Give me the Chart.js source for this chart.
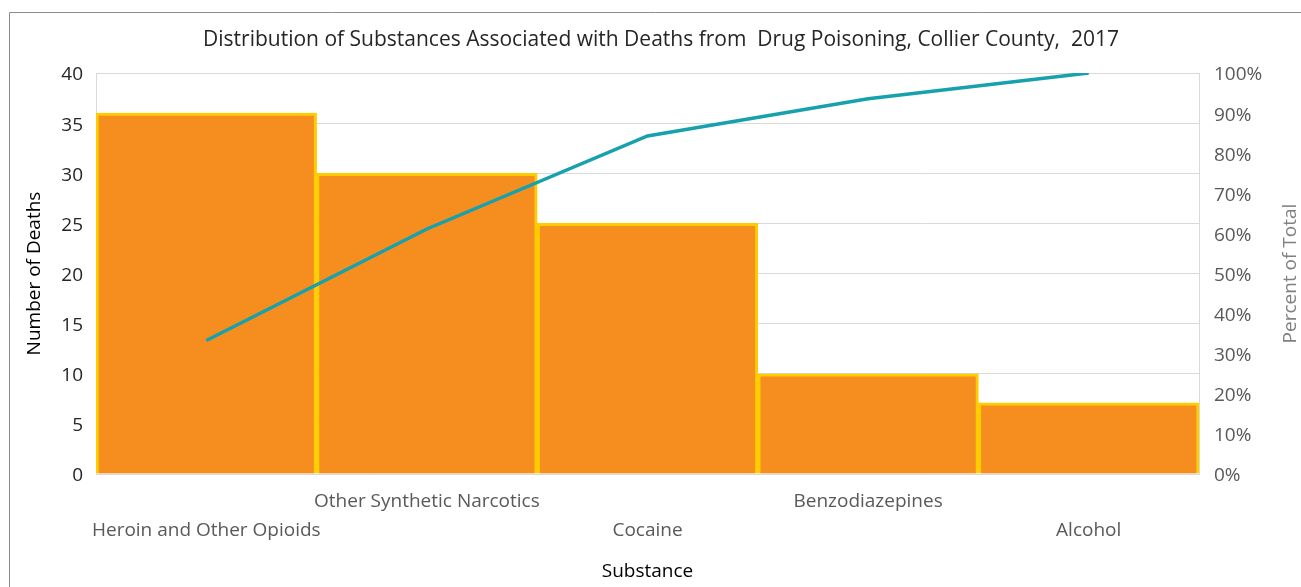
<!DOCTYPE html>
<html><head><meta charset="utf-8">
<script src="https://cdn.jsdelivr.net/npm/chart.js@4/dist/chart.umd.min.js"></script>
<style>html,body{margin:0;padding:0;background:#fff;overflow:hidden}canvas{display:block}</style>
</head><body>
<canvas id="c" width="1301" height="587"></canvas>
<script>
const categories = ['Heroin and Other Opioids', 'Other Synthetic Narcotics', 'Cocaine', 'Benzodiazepines', 'Alcohol'];
const deaths = [36, 30, 25, 10, 7.1];
const cumulativePercent = [33.3, 61.1, 84.3, 93.6, 100];
const chartTitle = 'Distribution of Substances Associated with Deaths from  Drug Poisoning, Collier County,  2017';
const leftAxisTitle = 'Number of Deaths';
const rightAxisTitle = 'Percent of Total';
const xAxisTitle = 'Substance';

const FONT = '"Open Sans", sans-serif';
// stagger category labels over two lines
const labels = categories.map((c, i) => i % 2 === 0 ? ['', c] : [c, '']);

const extras = {
  id: 'extras',
  afterDraw(chart) {
    const ctx = chart.ctx;
    ctx.save();
    ctx.strokeStyle = '#8c8c8c';
    ctx.lineWidth = 1;
    ctx.beginPath();
    ctx.moveTo(9.5, 587); ctx.lineTo(9.5, 12.5); ctx.lineTo(1301, 12.5);
    ctx.stroke();
    const a = chart.chartArea;
    ctx.translate(1291, (a.top + a.bottom) / 2);
    ctx.rotate(-Math.PI / 2);
    ctx.font = '19px ' + FONT;
    ctx.fillStyle = '#808080';
    ctx.textAlign = 'center';
    ctx.textBaseline = 'middle';
    ctx.fillText(rightAxisTitle, 0, 0);
    ctx.restore();
  }
};

new Chart(document.getElementById('c'), {
  data: {
    labels: labels,
    datasets: [
      {
        type: 'line', data: cumulativePercent, yAxisID: 'yR',
        borderColor: '#17A1AD', borderWidth: 3.5, pointRadius: 0, tension: 0, order: 0
      },
      {
        type: 'bar', data: deaths, yAxisID: 'y',
        backgroundColor: '#F68E1F', borderColor: '#FFCC00', borderWidth: 3,
        barPercentage: 1, categoryPercentage: 1, order: 1
      }
    ]
  },
  options: {
    responsive: false, animation: false, devicePixelRatio: 1,
    layout: { padding: { left: 21, right: 0, top: 0, bottom: 0 } },
    plugins: {
      legend: { display: false }, tooltip: { enabled: false },
      title: {
        display: true, text: chartTitle, color: '#262626',
        font: { family: FONT, size: 21, weight: 'normal' },
        padding: { top: 27.4, bottom: 20.4 }
      }
    },
    scales: {
      x: {
        grid: { display: false, drawTicks: false },
        border: { display: false },
        ticks: { color: '#595959', font: { family: FONT, size: 19, lineHeight: 1.526 }, padding: 13, autoSkip: false, maxRotation: 0 },
        title: { display: true, text: xAxisTitle, color: '#000', font: { family: FONT, size: 19 }, padding: { top: 6.6 } },
        afterFit(s) { s.height = 113; }
      },
      y: {
        position: 'left', min: 0, max: 40,
        ticks: { stepSize: 5, color: '#262626', font: { family: FONT, size: 19 }, padding: 13, labelOffset: 2 },
        grid: { color: '#d9d9d9', drawTicks: false },
        border: { display: true, color: '#d9d9d9' },
        title: { display: true, text: leftAxisTitle, color: '#000', font: { family: FONT, size: 19 }, padding: { top: 2.6 } },
        afterFit(s) { s.width = 75; }
      },
      yR: {
        position: 'right', min: 0, max: 100,
        ticks: { stepSize: 10, color: '#595959', font: { family: FONT, size: 19 }, padding: 15, labelOffset: 2, callback: v => v + '%' },
        grid: { display: false, drawTicks: false },
        border: { display: true, color: '#d9d9d9' },
        afterFit(s) { s.width = 102; }
      }
    }
  },
  plugins: [extras]
});
</script>
</body></html>
